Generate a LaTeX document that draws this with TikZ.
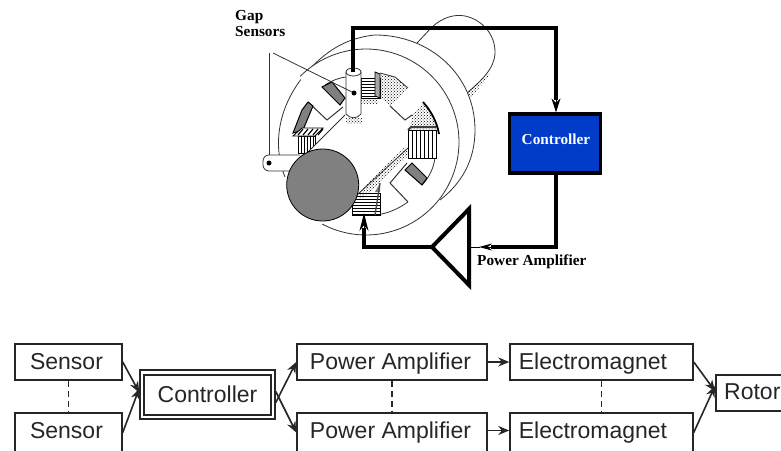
\documentclass[tikz,border=0pt]{standalone}
\usepackage{fontspec}
\setmainfont{Liberation Sans}
\newfontfamily\serifb{Liberation Serif}[BoldFont={Liberation Serif Bold}]
\usetikzlibrary{arrows.meta,patterns,shapes.geometric}
\newcommand{\rowa}[2]{\raisebox{0.7pt}{#1}\hspace{#2}\mbox{}}
\newcommand{\rowb}[2]{\raisebox{2.5pt}{#1}\hspace{#2}\mbox{}}
\tikzset{
  blockbox/.style={draw=black!85,line width=1.5pt,fill=white,minimum height=36pt,inner sep=0pt,text=black!85,text height=16.5pt,text depth=0pt,font=\fontsize{23}{26}\selectfont},
  blockarrow/.style={line width=1.6pt,black!85,-{Stealth[length=11pt,width=9pt]}},
  dashlink/.style={line width=1.5pt,black!85,dash pattern=on 6pt off 4pt},
  wire/.style={line width=3.4pt,line join=miter},
  thinl/.style={line width=0.8pt,black!80},
  label3d/.style={font=\serifb\bfseries\fontsize{15.3}{16}\selectfont,inner sep=0pt,align=left},
  stipple/.style={pattern=crosshatch dots,pattern color=black},
  coil/.style={fill=white,draw=black,line width=0.8pt},
  darkblock/.style={fill=black!50,draw=black,line width=1pt},
}
\begin{document}
\begin{tikzpicture}[x=1pt,y=-1pt]
\useasboundingbox (0,0) rectangle (781,450);
\clip (0,0) rectangle (781,450);
% shaft behind the stator
\draw[thinl] (417,43) -- (432,27) .. controls (443,17) and (455,14) .. (465,16) .. controls (483,20) and (495,35) .. (495,52) .. controls (495,68) and (482,80) .. (467,93);
\fill[stipple] (467,93) -- (490,72) -- (488,78) -- (470,98) -- cycle;
% stator outline
\draw[thinl,fill=white] (285,177) .. controls (272,145) and (278,105) .. (307,72) .. controls (325,52) and (345,38) .. (375,35) .. controls (430,35) and (475,75) .. (475,130) .. controls (475,160) and (462,183) .. (440,200);
\draw[thinl,fill=white] plot[domain=225:478,samples=80] ({366+93*cos(\x)},{142+93*sin(\x)});
% inner arcs of the poles
\draw[thinl] (325,85) .. controls (331,81) and (338,78) .. (346,77);
\draw[thinl] (435,157) .. controls (434,167) and (430,176) .. (423,184);
\draw[thinl] (375,215) .. controls (387,214) and (398,209) .. (408,202);
% pole notches
\draw[thinl,line width=1pt] (343,107) -- (327,120) -- (308,102);
\draw[thinl,line width=1pt] (390,106) -- (405,120) -- (412,115);
\draw[thinl,line width=1pt] (407,163) -- (390,183) -- (408,202);
% dark blocks
\draw[darkblock] (322,87) -- (332,82) -- (345,98) -- (340,105) -- cycle;
\draw[darkblock] (405,170) -- (412,163) -- (427,178) -- (422,185) -- cycle;
\draw[darkblock] (293,133) -- (302,110) -- (308,102) -- (313,106) -- (303,130) -- cycle;
% stippled pole pieces
\fill[stipple] (380,73) -- (395,77) -- (408,88) -- (390,106) -- (378,96) -- cycle;
\fill[stipple] (412,115) -- (423,103) -- (433,117) -- (438,132) -- (410,130) -- cycle;
\draw[line width=1.8pt] (423,102) .. controls (431,111) and (437,122) .. (439,134);
\draw[thinl] (380,73) -- (395,77) -- (408,88);
% top coil
\draw[coil] (361,78) rectangle (380,98);
\foreach \y in {81,84,...,96} \draw[line width=0.9pt] (361,\y) -- (380,\y);
\draw[coil,fill=black!35] (375,72) -- (380,74) -- (380,98) -- (375,96) -- cycle;
\fill[stipple] (361,98) rectangle (378,103);
% right coil
\draw[coil] (408,130) rectangle (436,158);
\foreach \x in {412,416,...,434} \draw[line width=0.9pt] (\x,130) -- (\x,158);
\draw[line width=2pt,black!75] (408,130) -- (411,127) -- (436,127);
% left coil
\draw[coil] (298,136) rectangle (315,153);
\foreach \x in {301,304,...,314} \draw[line width=0.9pt] (\x,136) -- (\x,153);
\draw[coil] (293,136) -- (302,128) -- (323,128) -- (315,136) -- cycle;
\foreach \x in {298,303,...,318} \draw[line width=1.2pt] (\x,135) -- (\x+5,129);
% bottom coil
\draw[coil] (352,193) rectangle (380,215);
\foreach \y in {196,199,...,214} \draw[line width=0.9pt] (352,\y) -- (380,\y);
\fill[black!50] (375,192) -- (380,183) -- (380,192) -- cycle;
\draw[line width=1.4pt,black!70] (380,183) -- (375,215);
% inner shaft: white core, stippled lower edge
\fill[white] (307,153) -- (345,115) -- (350,112) -- (408,148) -- (357,195) -- cycle;
\draw[thinl] (307,153) -- (345,115);
\fill[stipple] (355,195) -- (405,147) -- (409,155) -- (362,199) -- cycle;
\draw[thinl] (357,195) -- (408,148);
% gap sensors
\draw[thinl,fill=white,rounded corners=6pt] (300,155) -- (263,155) -- (263,171) -- (300,171);
\fill[stipple] (346,118) rectangle (362,123);
\draw[thinl,fill=white] (346,72) -- (346,114) .. controls (350,119) and (357,119) .. (361,114) -- (361,72) -- cycle;
\draw[thinl,fill=white] (353.5,72) ellipse [x radius=7.5,y radius=4];
\coordinate (sensortop) at (353,72);
\node[circle,fill=black,minimum size=5pt,inner sep=0pt] (dota) at (354,93) {};
\node[circle,fill=black,minimum size=5pt,inner sep=0pt] (dotb) at (269,163) {};
\coordinate (leadera) at (273,53);
\coordinate (leaderb) at (269,53);
\draw[thinl] (leadera) -- (dota);
\draw[thinl] (leaderb) -- (269,155);
% rotor
\node[circle,draw=black,line width=0.8pt,fill=black!50,minimum size=72pt,inner sep=0pt] (rotordisk) at (322.7,185) {};
% controller and amplifier
\node[draw=black,line width=3.2pt,fill={rgb,255:red,0;green,60;blue,200},minimum width=91pt,minimum height=59pt] (ctrl3d) at (555,143.5) {};
\node[label3d,text=white] (ctrltxt) at (556,139) {Controller};
\coordinate (amptip) at (432,247);
\coordinate (ampin) at (469,247);
\coordinate (ampa) at (469,209);
\coordinate (ampb) at (469,285);
\draw[line width=4pt,fill=white,line join=miter] (amptip) -- (ampa) -- (ampb) -- cycle;
\coordinate (corner1) at (353,28);
\coordinate (corner2) at (556,28);
\draw[wire] (sensortop) -- (corner1) -- (corner2) -- (556,100);
\draw[line width=1pt,-{Stealth[length=14pt,width=9pt]}] (556,97) -- (ctrl3d.north -| 556,0);
\coordinate (corner3) at (556,247);
\draw[wire] (ctrl3d.south -| 556,0) -- (corner3) -- (491,247);
\draw[line width=1pt,-{Stealth[length=13pt,width=7pt]}] (493,247) -- (479,247);
\draw[line width=1pt] (480,247) -- (ampin);
\coordinate (corner4) at (364,247);
\draw[wire] (amptip) -- (corner4) -- (364,228);
\draw[line width=1pt,-{Stealth[length=18pt,width=9pt]}] (364,231) -- (364,213);
\node[label3d,anchor=west] (lamp) at (477,262) {Power Amplifier};
\node[label3d,anchor=west] (lgap) at (235,24) {Gap\\Sensors};
% block diagram
\node[blockbox,minimum width=107pt] (s1) at (68.5,362) {\rowa{Sensor}{4pt}};
\node[blockbox,minimum width=107pt,minimum height=39pt] (s2) at (68.5,432.5) {\rowb{Sensor}{4pt}};
\node[blockbox,minimum width=135pt,minimum height=49pt] (ctrlouter) at (207.5,394.5) {};
\node[blockbox,minimum width=127pt,minimum height=40pt] (ctrl) at (207.5,395) {\raisebox{1pt}{Controller}};
\node[blockbox,minimum width=190pt] (p1) at (392,362) {\rowa{Power Amplifier}{3pt}};
\node[blockbox,minimum width=190pt,minimum height=39pt] (p2) at (392,432.5) {\rowb{Power Amplifier}{3pt}};
\node[blockbox,minimum width=183pt] (e1) at (601.5,362) {\rowa{Electromagnet}{17pt}};
\node[blockbox,minimum width=183pt,minimum height=39pt] (e2) at (601.5,432.5) {\rowb{Electromagnet}{17pt}};
\node[blockbox,minimum width=80pt,anchor=west] (rbox) at (715,393) {};
\node[inner sep=0pt,anchor=west,text=black!85,font=\fontsize{23}{26}\selectfont] (rtxt) at (724,392) {Rotor};
\draw[blockarrow] (s1.east) -- ([yshift=2pt]ctrlouter.west);
\draw[blockarrow] (s2.east) -- ([yshift=6pt]ctrlouter.west);
\draw[blockarrow] ([yshift=-8pt]ctrlouter.east) -- (p1.west);
\draw[blockarrow] ([yshift=3pt]ctrlouter.east) -- (p2.west);
\draw[blockarrow] (p1.east) -- (e1.west);
\draw[blockarrow] ([yshift=2pt]p2.east) -- ([yshift=2pt]e2.west);
\draw[blockarrow] (e1.east) -- ([yshift=2pt]rbox.west);
\draw[blockarrow] (e2.east) -- ([yshift=7pt]rbox.west);
\draw[dashlink] (s1.south) -- (s2.north);
\draw[dashlink] (p1.south) -- (p2.north);
\draw[dashlink] (e1.south) -- (e2.north);
\end{tikzpicture}
\end{document}
